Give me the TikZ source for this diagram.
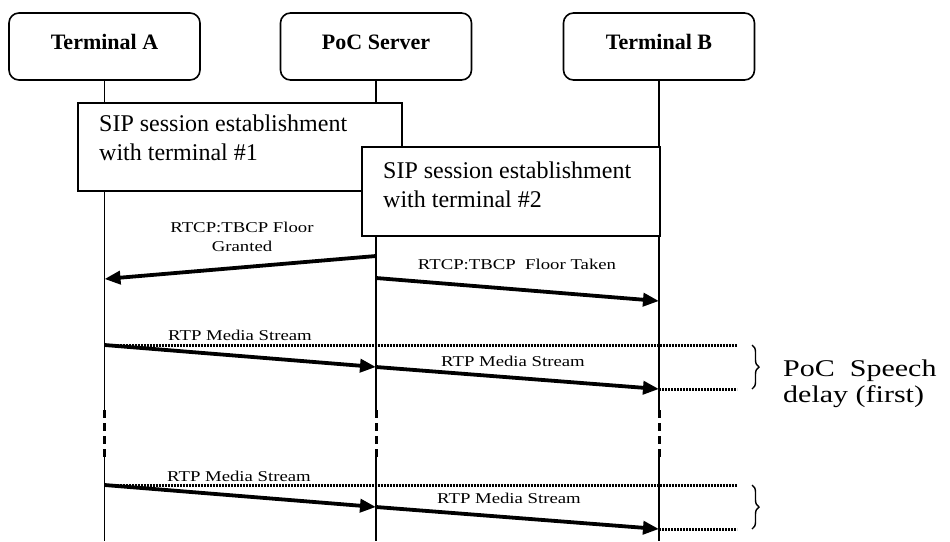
\documentclass[tikz,border=0pt]{standalone}
\usepackage{fontspec}
\setmainfont{Liberation Serif}
\newfontfamily\lblfont[FakeStretch=1.25]{Liberation Serif}
\usetikzlibrary{arrows.meta,decorations.pathreplacing}
\begin{document}
\begin{tikzpicture}[x=1pt,y=-1pt,
  actor/.style={draw,line width=1.6pt,rounded corners=10pt,minimum width=191pt,minimum height=67pt,inner sep=0pt,fill=white},
  title/.style={inner sep=0pt,font=\fontsize{22}{26}\selectfont\bfseries},
  sipbox/.style={draw,line width=1.5pt,fill=white,inner sep=0pt,anchor=north west},
  siptext/.style={inner sep=0pt,anchor=north west,align=left,font=\fontsize{24}{29}\selectfont},
  life/.style={line width=1.4pt},
  gap/.style={line width=3pt,dash pattern=on 8pt off 5pt},
  msg/.style={line width=3.8pt,-{Triangle[length=16pt,width=13pt]}},
  dots/.style={line width=3pt,dash pattern=on 2pt off 1pt},
  lbl/.style={inner sep=0pt,align=center,font=\lblfont\fontsize{15}{19}\selectfont},
  brc/.style={line width=1.4pt,decorate,decoration={brace,amplitude=7pt}},
  big/.style={inner sep=0pt,anchor=west,align=left,font=\lblfont\fontsize{24}{26}\selectfont}
]
\useasboundingbox (0,0) rectangle (950,541);
% actors
\node[actor] (ta) at (104.5,46.5) {};
\node[actor] (ps) at (376,46.5) {};
\node[actor] (tb) at (659,46.5) {};
\node[title] (tat) at (104.5,42) {Terminal A};
\node[title] (pst) at (376,42) {PoC Server};
\node[title] (tbt) at (659,42) {Terminal B};
% lifeline coordinates
\foreach \n/\x in {A/104.5,S/376,B/659}{
  \coordinate (\n1) at (\x,410);
  \coordinate (\n2) at (\x,457);
  \coordinate (\n3) at (\x,541);
}
\draw[life] (ta.south) -- (A1) (A2) -- (A3);
\draw[life] (ps.south) -- (S1) (S2) -- (S3);
\draw[life] (tb.south) -- (B1) (B2) -- (B3);
\draw[gap] (A1) -- (A2);
\draw[gap] (S1) -- (S2);
\draw[gap] (B1) -- (B2);
% SIP boxes
\node[sipbox,minimum width=324pt,minimum height=88pt] (s1) at (77,102) {};
\node[siptext] (s1t) at (99,114.5) {SIP session establishment\\with terminal \#1};
\node[sipbox,minimum width=298pt,minimum height=89pt] (s2) at (361,146) {};
\node[siptext] (s2t) at (383,161.5) {SIP session establishment\\with terminal \#2};
% floor messages
\coordinate (fg1) at (376,256);
\coordinate (fg2) at (104.5,279);
\coordinate (ft1) at (376,278);
\coordinate (ft2) at (659,301);
\draw[msg] (fg1) -- (fg2);
\draw[msg] (ft1) -- (ft2);
\node[lbl] (fgl) at (242,236.5) {RTCP:TBCP Floor\\Granted};
\node[lbl] (ftl) at (517,264) {RTCP:TBCP\ \ Floor Taken};
% first media block
\coordinate (m1a) at (104.5,345);
\coordinate (m1s) at (376,367);
\coordinate (m1b) at (659,389);
\coordinate (m1e) at (737,345);
\coordinate (m1f) at (737,389);
\draw[dots] (m1a) -- (m1e);
\draw[dots] (m1b) -- (m1f);
\draw[msg] (m1a) -- (m1s);
\draw[msg] (m1s) -- (m1b);
\node[lbl] (m1l1) at (240,335) {RTP Media Stream};
\node[lbl] (m1l2) at (513,361) {RTP Media Stream};
\coordinate (br1t) at (752,345);
\coordinate (br1b) at (752,389);
\draw[brc] (br1t) -- (br1b);
\node[big] (pocl) at (783,384) {PoC\ \ Speech\\delay (first)};
% second media block
\coordinate (m2a) at (104.5,485);
\coordinate (m2s) at (376,507);
\coordinate (m2b) at (659,529);
\coordinate (m2e) at (737,485);
\coordinate (m2f) at (737,529);
\draw[dots] (m2a) -- (m2e);
\draw[dots] (m2b) -- (m2f);
\draw[msg] (m2a) -- (m2s);
\draw[msg] (m2s) -- (m2b);
\node[lbl] (m2l1) at (239,476) {RTP Media Stream};
\node[lbl] (m2l2) at (509,498) {RTP Media Stream};
\coordinate (br2t) at (752,485);
\coordinate (br2b) at (752,529);
\draw[brc] (br2t) -- (br2b);
\end{tikzpicture}
\end{document}
